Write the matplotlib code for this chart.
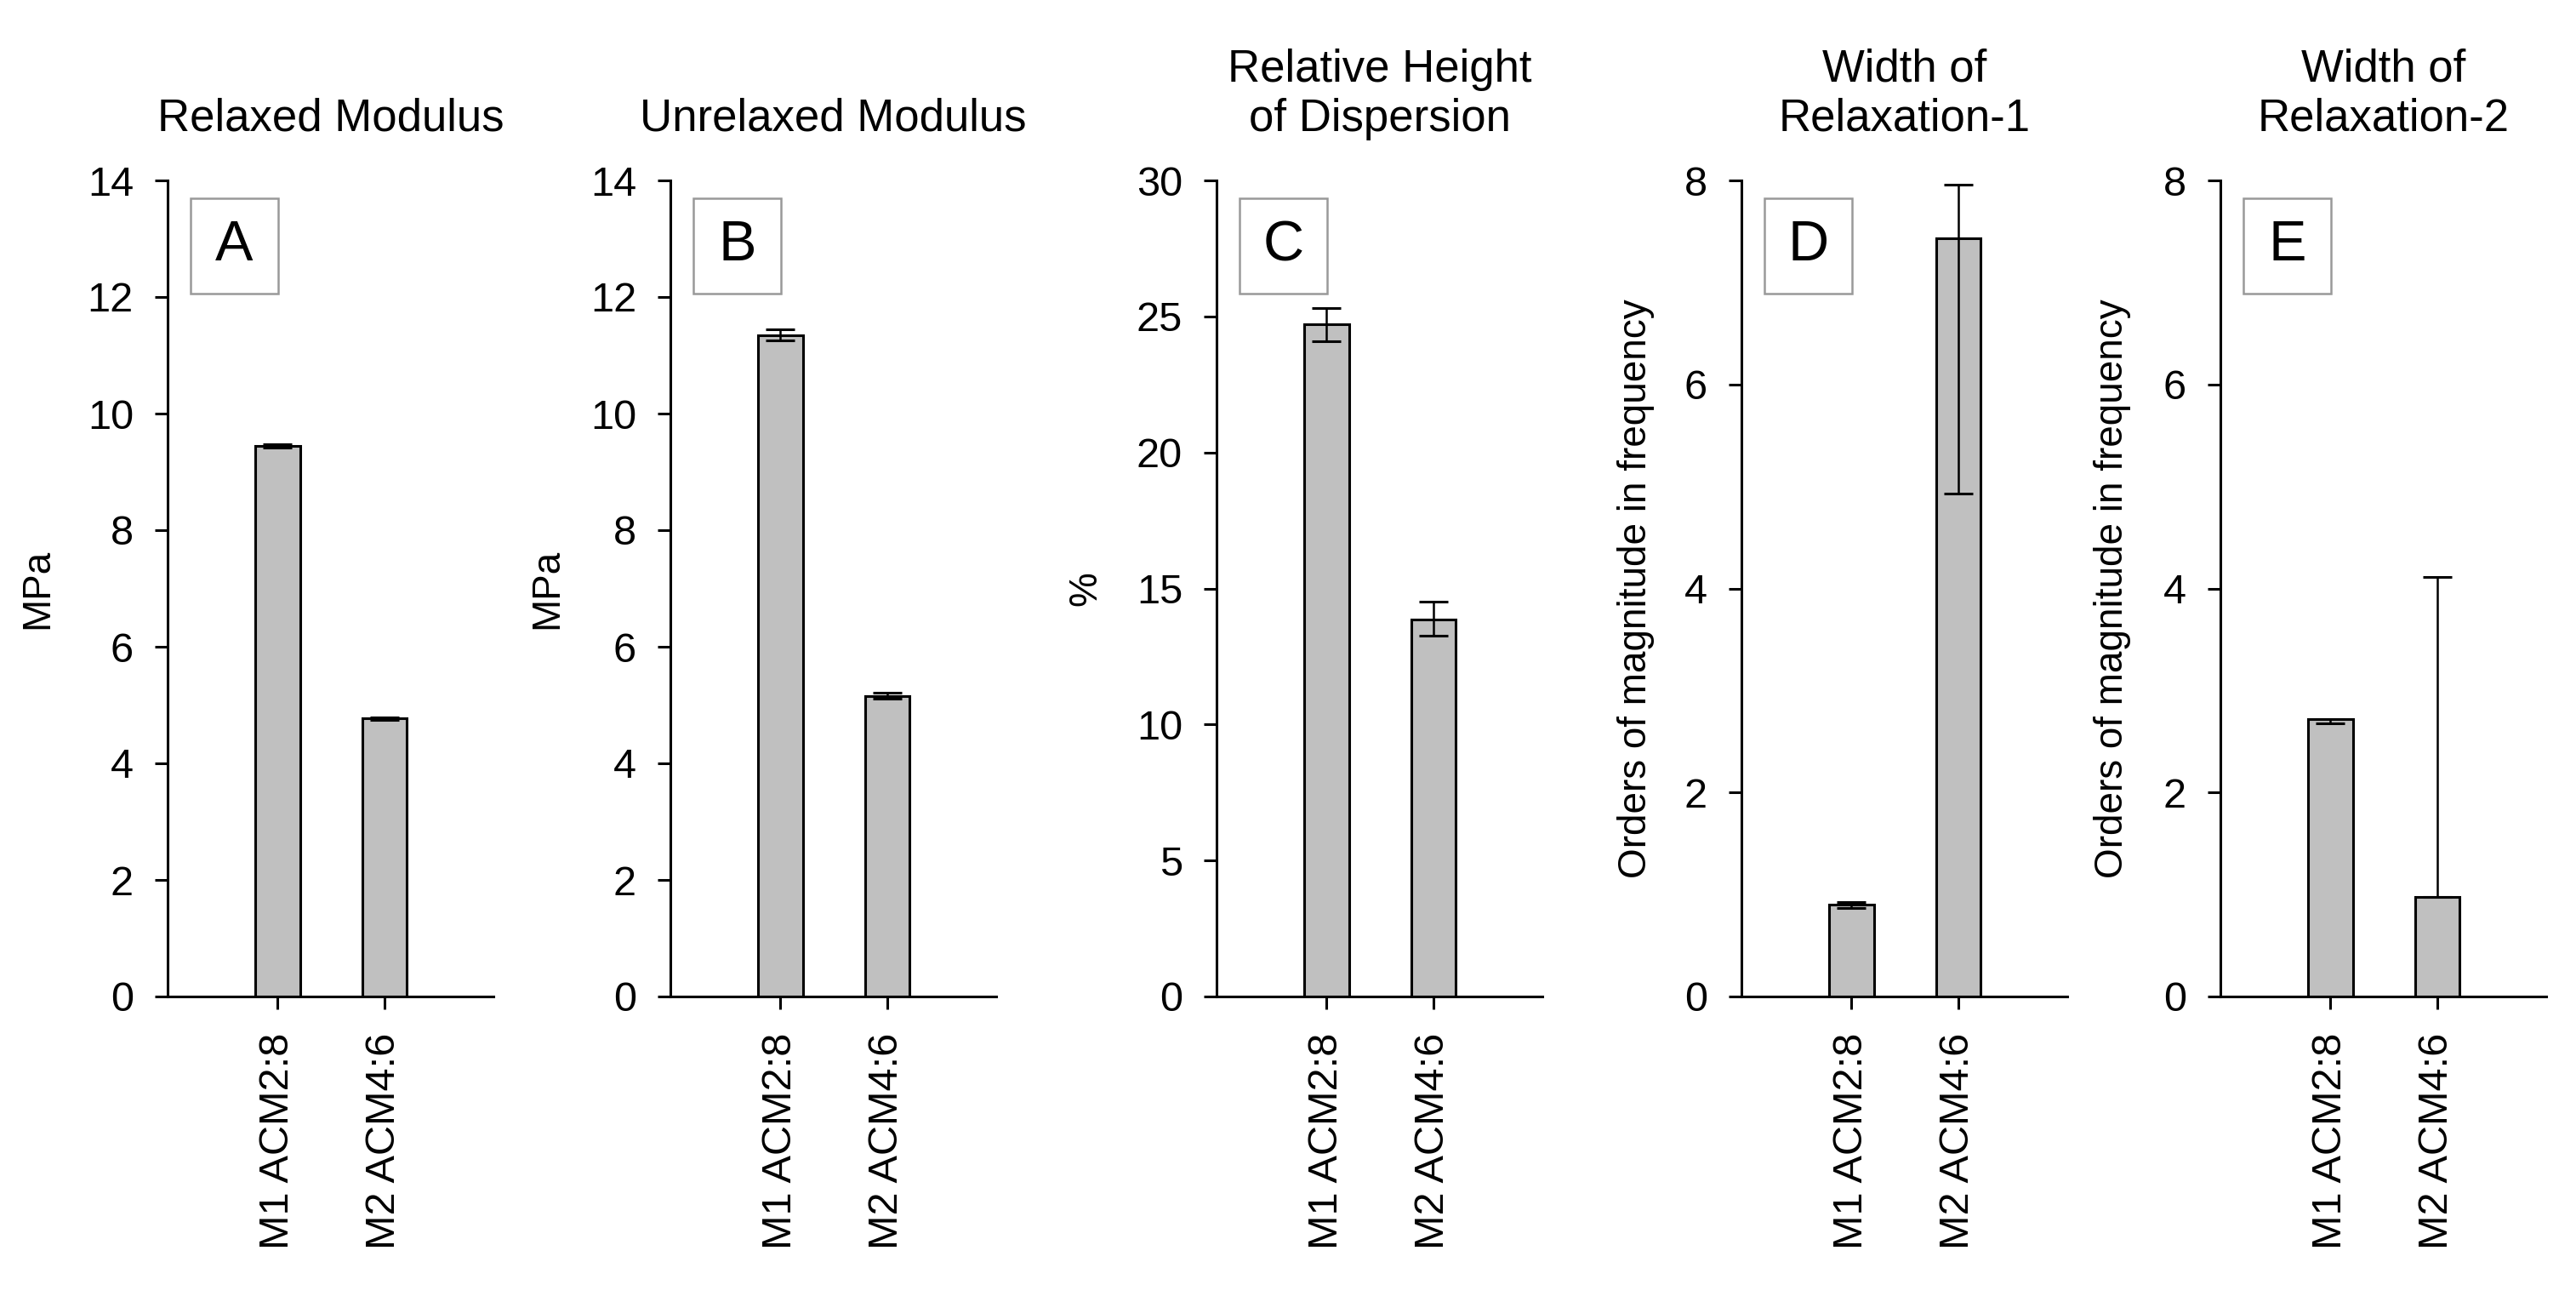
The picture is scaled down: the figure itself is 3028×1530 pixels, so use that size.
"""
Viscoelastic parameters of M1 ACM2:8 and M2 ACM4:6 (panels A-E)
"""

import numpy as np
import matplotlib
matplotlib.use("Agg")
import matplotlib.pyplot as plt
from matplotlib.patches import Rectangle

""" DATA """
categories = ["M1 ACM2:8", "M2 ACM4:6"]

relaxed = [9.45, 4.77]
relaxed_lo = [0.03, 0.02]
relaxed_hi = [0.03, 0.02]

unrelaxed = [11.35, 5.16]
unrelaxed_lo = [0.1, 0.05]
unrelaxed_hi = [0.1, 0.05]

disp_height = [24.7, 13.85]
disp_lo = [0.6, 0.6]
disp_hi = [0.6, 0.65]

width_1 = [0.9, 7.43]
width_1_lo = [0.03, 2.5]
width_1_hi = [0.03, 0.53]

width_2 = [2.72, 0.98]
width_2_lo = [0.04, 0.0]
width_2_hi = [0.0, 3.13]

titles = ["Relaxed Modulus", "Unrelaxed Modulus", "Relative Height\nof Dispersion",
          "Width of\nRelaxation-1", "Width of\nRelaxation-2"]
ylabels = ["MPa", "MPa", "%", "Orders of magnitude in frequency",
           "Orders of magnitude in frequency"]
letters = ["A", "B", "C", "D", "E"]
ymax = [14, 14, 30, 8, 8]
ystep = [2, 2, 5, 2, 2]

""" LAYOUT """
plt.rcParams['font.family'] = ['Liberation Sans', 'DejaVu Sans']

fig = plt.figure(figsize=(15.14, 7.65), dpi=200)
fig.patch.set_facecolor("white")

W, H = 3028, 1530
lefts = [197, 788, 1430, 2047, 2610]
ax_w = 383
ax_top, ax_bot = 212, 1171
label_x = [-0.40, -0.379, -0.402, -0.324, -0.332]

panels = [(relaxed, relaxed_lo, relaxed_hi),
          (unrelaxed, unrelaxed_lo, unrelaxed_hi),
          (disp_height, disp_lo, disp_hi),
          (width_1, width_1_lo, width_1_hi),
          (width_2, width_2_lo, width_2_hi)]

x = np.arange(len(categories))

for i, (vals, lo, hi) in enumerate(panels):
    ax = fig.add_axes([lefts[i] / W, 1 - ax_bot / H, ax_w / W, (ax_bot - ax_top) / H])

    ax.bar(x, vals, width=0.42, color="#c0c0c0", edgecolor="black",
           linewidth=1.1, zorder=2)
    ax.errorbar(x, vals, yerr=[lo, hi], fmt="none", ecolor="black",
                elinewidth=0.9, capsize=6, capthick=1.1, zorder=3)

    ax.set_xlim(-1.03, 2.02)
    ax.set_ylim(0, ymax[i])
    ax.set_yticks(np.arange(0, ymax[i] + 0.1, ystep[i]))
    ax.set_xticks(x)
    ax.set_xticklabels(categories, rotation=90, fontsize=17.5)

    for side in ["top", "right"]:
        ax.spines[side].set_visible(False)
    for side in ["left", "bottom"]:
        ax.spines[side].set_linewidth(1.1)

    ax.tick_params(axis="y", direction="out", length=5.4, width=1.1,
                   labelsize=17.5, pad=9)
    ax.tick_params(axis="x", direction="out", length=5.4, width=1.1,
                   pad=10)

    ax.set_title(titles[i], fontsize=19, pad=21, linespacing=1.2)
    ax.set_ylabel(ylabels[i], fontsize=16.5, va="center")
    ax.yaxis.set_label_coords(label_x[i], 0.5)

    # panel letter in a grey box
    box = Rectangle((0.07, 0.861), 0.27, 0.117, transform=ax.transAxes,
                    facecolor="white", edgecolor="#999999", linewidth=0.9,
                    zorder=4, clip_on=False)
    ax.add_patch(box)
    ax.text(0.205, 0.9195, letters[i], transform=ax.transAxes, fontsize=24,
            ha="center", va="center", zorder=5)

fig.savefig("out.png", dpi=200, facecolor="white")
